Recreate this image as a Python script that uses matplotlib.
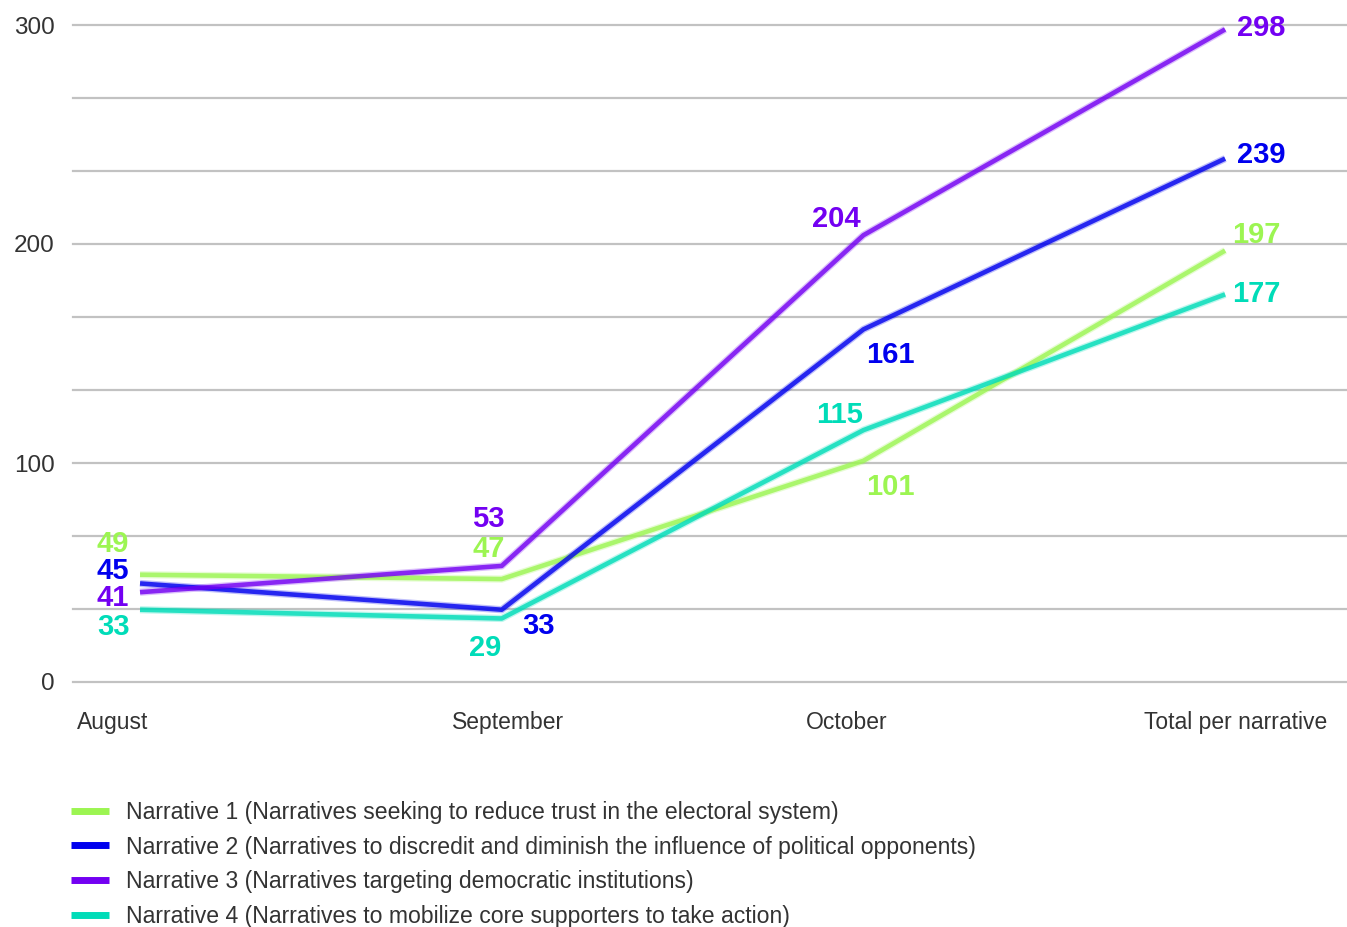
import matplotlib
matplotlib.use('Agg')
import matplotlib.pyplot as plt
import matplotlib.transforms as mtransforms
import numpy as np
from matplotlib.lines import Line2D

months = ['August', 'September', 'October', 'Total per narrative']
narrative_names = [
    'Narrative 1 (Narratives seeking to reduce trust in the electoral system)',
    'Narrative 2 (Narratives to discredit and diminish the influence of political opponents)',
    'Narrative 3 (Narratives targeting democratic institutions)',
    'Narrative 4 (Narratives to mobilize core supporters to take action)',
]
narrative_1 = [49, 47, 101, 197]
narrative_2 = [45, 33, 161, 239]
narrative_3 = [41, 53, 204, 298]
narrative_4 = [33, 29, 115, 177]
colors = ['#9cf552', '#0000ee', '#7300f2', '#00dcb8']

# label offsets in pixels (dx, dy) per series / point
label_offsets = [
    [(-27, 31), (-13, 30), (27, -26), (31, 16)],
    [(-27, 12), (37, -16), (27, -26), (36, 4)],
    [(-27, -6), (-13, 47), (-27, 16), (36, 1)],
    [(-27, -17), (-17, -30), (-24, 15), (31, 0)],
]

plt.rcParams['font.family'] = ['Liberation Sans', 'DejaVu Sans']

fig = plt.figure(figsize=(13.47, 9.27), dpi=100)
ax = fig.add_axes([73 / 1347, 1 - 682 / 927, 1 - 73 / 1347, (682 - 25) / 927])

x = np.arange(len(months))
series = [narrative_1, narrative_2, narrative_3, narrative_4]
for vals, c, offs in zip(series, colors, label_offsets):
    ax.plot(x, vals, color=c, lw=5.2, alpha=0.25, solid_capstyle='butt', zorder=3)
    ax.plot(x, vals, color=c, lw=3.3, alpha=0.8, solid_capstyle='butt', zorder=4)
    for xi, v, (dx, dy) in zip(x, vals, offs):
        ax.annotate(str(v), (xi, v), xytext=(dx, dy), textcoords='offset pixels',
                    ha='center', va='center', fontsize=21, fontweight='bold',
                    color=c, zorder=5)

ax.set_xlim(-0.1853, 3.337)
ax.set_ylim(0, 300)
yt = np.linspace(0, 300, 10)
ax.set_yticks(yt)
ax.set_yticklabels([str(int(round(v))) if round(v) % 100 == 0 else '' for v in yt])
ax.grid(axis='y', color='#c2c2c2', lw=1.6)
ax.set_axisbelow(True)
for ln in ax.get_ygridlines():
    ln.set_clip_on(False)
for s in ax.spines.values():
    s.set_visible(False)
ax.tick_params(axis='both', length=0, labelcolor='#333333')
ax.tick_params(axis='y', pad=13, labelsize=17.5)
ax.tick_params(axis='x', pad=21, labelsize=16.5)
ax.set_xticks(x)
ax.set_xticklabels(months)

# nudge x labels to match the reference placement
tick_dx = [-27, 6, -17, 11]
for lab, dx in zip(ax.get_xticklabels(), tick_dx):
    lab.set_transform(lab.get_transform() + mtransforms.ScaledTranslation(dx / 100, 0, fig.dpi_scale_trans))

handles = [Line2D([0], [0], color=c, lw=5, solid_capstyle='butt') for c in colors]
fig.legend(handles, narrative_names, loc='upper left', bbox_to_anchor=(71 / 1347, 1 - 801 / 927),
           frameon=False, fontsize=16.6, handlelength=1.65, handletextpad=0.72,
           labelspacing=0.5, borderpad=0, borderaxespad=0, labelcolor='#333333')

fig.savefig('out.png', dpi=100, facecolor='white')
